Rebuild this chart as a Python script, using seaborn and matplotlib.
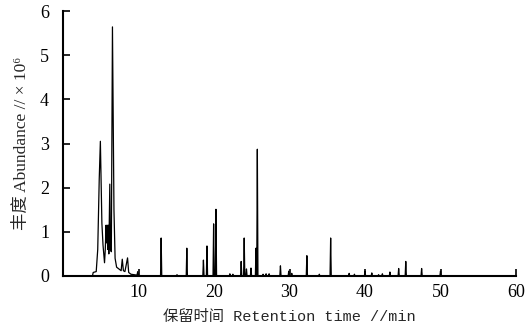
import numpy as np
import pandas as pd
import matplotlib
matplotlib.use("Agg")
import matplotlib.pyplot as plt
import seaborn as sns

# Early, broad part of the chromatogram (retention time min, abundance x10^6)
early_rt = [0.0, 3.9, 4.0, 4.4, 4.6, 4.8, 4.95, 5.15, 5.3, 5.5, 5.6, 5.7, 5.78, 5.85,
            5.92, 6.0, 6.07, 6.2, 6.28, 6.4, 6.55, 6.75, 6.9, 7.1, 7.7, 7.85, 8.0,
            8.2, 8.55, 8.7, 9.0, 9.8, 9.9, 10.0]
early_ab = [0.0, 0.0, 0.08, 0.1, 0.6, 2.2, 3.05, 1.2, 0.7, 0.3, 0.6, 1.15, 0.75, 1.15,
            0.6, 1.15, 0.5, 2.08, 0.6, 0.55, 5.64, 1.5, 0.4, 0.2, 0.12, 0.38, 0.12,
            0.1, 0.41, 0.08, 0.04, 0.02, 0.1, 0.01]

# Sharp peaks later in the run
peak_rt = [13.0, 15.1, 16.4, 18.6, 19.07, 19.95, 20.26, 22.1, 22.5, 23.6, 24.0, 24.3,
           24.9, 25.56, 25.74, 26.5, 26.9, 27.3, 28.8, 29.9, 30.3, 32.3, 33.95, 35.45,
           37.9, 38.6, 40.0, 40.9, 41.8, 42.3, 43.3, 44.46, 45.4, 47.5, 50.0]
peak_ab = [0.86, 0.03, 0.63, 0.36, 0.68, 1.18, 1.51, 0.05, 0.04, 0.33, 0.86, 0.16,
           0.18, 0.63, 2.87, 0.04, 0.05, 0.05, 0.23, 0.11, 0.06, 0.46, 0.04, 0.86,
           0.06, 0.04, 0.11, 0.07, 0.03, 0.05, 0.09, 0.17, 0.33, 0.17, 0.11]
end_rt = 60.0

x_ticks = [10, 20, 30, 40, 50, 60]
y_ticks = [0, 1, 2, 3, 4, 5, 6]

# Build trace: each sharp peak rises from and returns to baseline
rt = list(early_rt)
ab = list(early_ab)
hw = 0.08
for t, h in zip(peak_rt, peak_ab):
    rt += [t - hw, t, t + hw]
    ab += [0.0, h, 0.0]
rt.append(end_rt)
ab.append(0.0)
df = pd.DataFrame({"rt": rt, "ab": ab})

sns.set_theme(style="ticks")
plt.rcParams['font.family'] = ['Liberation Serif', 'Noto Sans CJK SC', 'DejaVu Sans']

fig = plt.figure(figsize=(5.28, 3.36), dpi=100)
ax = fig.add_axes([63/528, 1-276/336, (516-63)/528, (276-11)/336])
sns.lineplot(data=df, x="rt", y="ab", sort=False, estimator=None, color="black",
             linewidth=0.9, ax=ax)

ax.set_xlim(0, 60)
ax.set_ylim(0, 6)
ax.set_xticks(x_ticks)
ax.set_yticks(y_ticks)
ax.tick_params(direction="in", length=5, width=1.2, colors="black", labelsize=13)
ax.tick_params(axis="y", pad=10)
ax.tick_params(axis="x", pad=6)
for s in ["top", "right"]:
    ax.spines[s].set_visible(False)
for s in ["left", "bottom"]:
    ax.spines[s].set_linewidth(1.5)
    ax.spines[s].set_color("black")

ax.set_xlabel("保留时间 Retention time //min",
              family=['Liberation Mono', 'Noto Sans CJK SC'], fontsize=11, labelpad=6)
ax.set_ylabel("丰度 Abundance // × 10⁶",
              family=['Liberation Serif', 'Noto Sans CJK SC', 'DejaVu Sans'], fontsize=12.5,
              labelpad=7)

fig.savefig("out.png", dpi=100)
